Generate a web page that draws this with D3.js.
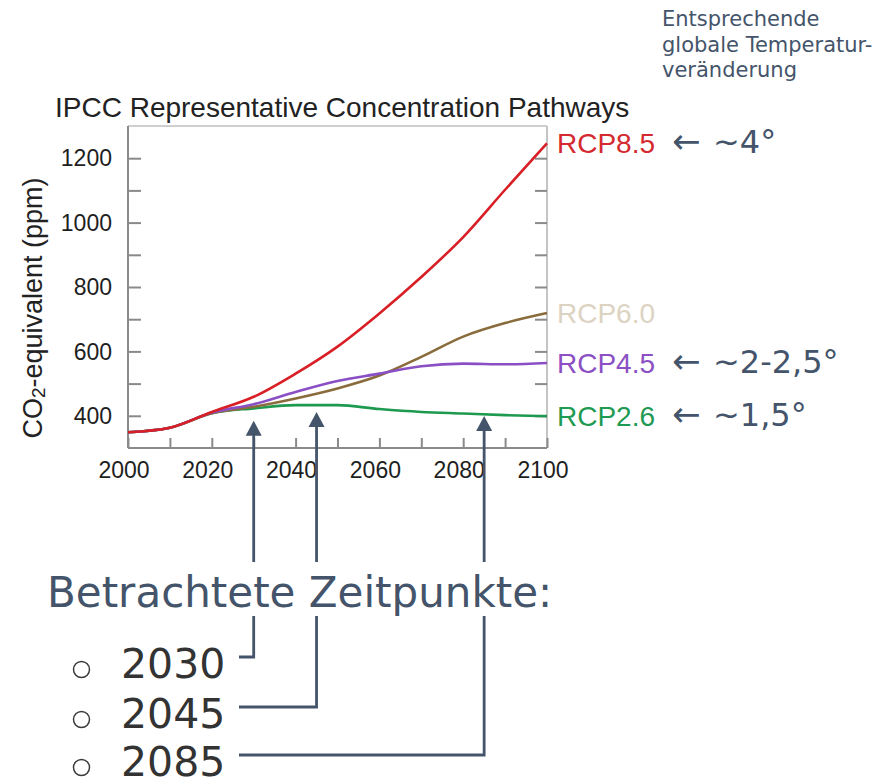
<!DOCTYPE html>
<html><head><meta charset="utf-8">
<script src="https://cdn.jsdelivr.net/npm/d3@7"></script>
<style>html,body{margin:0;padding:0;background:#fff;}svg{display:block;}</style>
</head><body>
<script>
// ---- data ----
const years = [2000, 2010, 2020, 2030, 2040, 2050, 2060, 2070, 2080, 2090, 2100];
const rcp85 = [349, 363, 412, 459, 531, 615, 718, 831, 955, 1102, 1246];
const rcp60 = [349, 363, 408, 428, 454, 485, 525, 583, 646, 688, 719];
const rcp45 = [349, 363, 410, 436, 474, 508, 531, 554, 562, 560, 564];
const rcp26 = [349, 363, 408, 423, 433, 433, 421, 412, 407, 402, 399];
const seriesNames = ["RCP8.5", "RCP6.0", "RCP4.5", "RCP2.6"];
const seriesValues = [rcp85, rcp60, rcp45, rcp26];
const lineColors = ["#d81f26", "#8a6c3c", "#8a4fc4", "#1e9a50"];
const labelColors = ["#d42a2f", "#dcd3c2", "#8c50c4", "#1f9a52"];
const tempLabels = ["~4\u00b0", null, "~2-2,5\u00b0", "~1,5\u00b0"];
const xTicks = [2000, 2020, 2040, 2060, 2080, 2100];
const yTicks = [400, 600, 800, 1000, 1200];
const focusYears = [2030, 2045, 2085];
const focusTipPpm = [385, 412, 399];
const headerLines = ["Entsprechende", "globale Temperatur-", "veränderung"];

const W = 886, H = 784;
const svg = d3.select("body").append("svg").attr("width", W).attr("height", H);

const x = d3.scaleLinear().domain([2000, 2100]).range([128, 547]);
const y = d3.scaleLinear().domain([300, 1300]).range([448, 126]);
const chartFont = "'Liberation Sans', Arial, sans-serif";
const annoFont = "'DejaVu Sans', Verdana, sans-serif";
const slate = "#44546a";

// frame
const g = svg.append("g");
g.append("line").attr("x1", x(2000)).attr("x2", x(2100)).attr("y1", y(1300)).attr("y2", y(1300))
  .attr("stroke", "#cfcfcf").attr("stroke-width", 2);
g.append("line").attr("x1", x(2100)).attr("x2", x(2100)).attr("y1", y(1300)).attr("y2", y(300))
  .attr("stroke", "#c4c4c4").attr("stroke-width", 2);

// axes with inward ticks
const yMinor = d3.range(400, 1201, 100);
const xMinor = d3.range(2000, 2101, 10);
const axisColor = "#8a8a8a";

const gl = g.append("g").attr("transform", `translate(${x(2000)},0)`)
  .call(d3.axisRight(y).tickValues(yMinor).tickSize(13).tickFormat(""));
const gr = g.append("g").attr("transform", `translate(${x(2100)},0)`)
  .call(d3.axisLeft(y).tickValues(yMinor).tickSize(12).tickFormat(""));
const gb = g.append("g").attr("transform", `translate(0,${y(300)})`)
  .call(d3.axisTop(x).tickValues(xMinor).tickSize(10).tickFormat(""));
[gl, gr, gb].forEach(a => {
  a.selectAll("line").attr("stroke", axisColor).attr("stroke-width", 2);
  a.select(".domain").remove();
});
g.append("line").attr("x1", x(2000)).attr("x2", x(2000)).attr("y1", y(1300)).attr("y2", y(300))
  .attr("stroke", axisColor).attr("stroke-width", 2);
g.append("line").attr("x1", x(2000)).attr("x2", x(2100)).attr("y1", y(300)).attr("y2", y(300))
  .attr("stroke", axisColor).attr("stroke-width", 2);

// tick labels
g.selectAll("text.ylab").data(yTicks).join("text").attr("class", "ylab")
  .attr("x", x(2000) - 16).attr("y", d => y(d)).attr("dy", "0.36em")
  .attr("text-anchor", "end").attr("font-family", chartFont).attr("font-size", 23)
  .attr("fill", "#1e1e1e").text(d => d);
g.selectAll("text.xlab").data(xTicks).join("text").attr("class", "xlab")
  .attr("x", d => x(d) - 4).attr("y", y(300) + 30)
  .attr("text-anchor", "middle").attr("font-family", chartFont).attr("font-size", 23)
  .attr("fill", "#1e1e1e").text(d => d);

// title
svg.append("text").attr("x", 55).attr("y", 117).attr("font-family", chartFont).attr("font-size", 28)
  .attr("fill", "#222").text("IPCC Representative Concentration Pathways");

// y axis label
const yl = svg.append("text").attr("transform", "translate(42,308) rotate(-90)")
  .attr("text-anchor", "middle").attr("font-family", chartFont).attr("font-size", 27).attr("fill", "#222");
yl.append("tspan").text("CO");
yl.append("tspan").attr("font-size", 19).attr("dy", 3).text("2");
yl.append("tspan").attr("dy", -3).text("-equivalent (ppm)");

// lines
const line = d3.line().x((d, i) => x(years[i])).y(d => y(d)).curve(d3.curveMonotoneX);
const order = [3, 1, 2, 0];
order.forEach(k => {
  g.append("path").datum(seriesValues[k]).attr("d", line)
    .attr("fill", "none").attr("stroke", lineColors[k]).attr("stroke-width", 2.6)
    .attr("stroke-linejoin", "round");
});

// series labels + temperature annotations
seriesNames.forEach((n, k) => {
  const vy = y(seriesValues[k][seriesValues[k].length - 1]);
  svg.append("text").attr("x", 557).attr("y", vy).attr("dy", "0.36em")
    .attr("font-family", chartFont).attr("font-size", 28).attr("fill", labelColors[k]).text(n);
  if (tempLabels[k]) {
    const t = svg.append("text").attr("x", 672).attr("y", vy).attr("dy", "0.3em")
      .attr("font-family", annoFont).attr("font-size", 32).attr("fill", slate);
    t.append("tspan").attr("font-size", 34).text("\u2190");
    t.append("tspan").attr("x", 713).text(tempLabels[k]);
  }
});

// header
svg.append("g").selectAll("text").data(headerLines).join("text")
  .attr("x", 662).attr("y", (d, i) => 26 + i * 25.5)
  .attr("font-family", annoFont).attr("font-size", 21).attr("fill", slate).text(d => d);

// Betrachtete Zeitpunkte
svg.append("text").attr("x", 47).attr("y", 607).attr("font-family", annoFont).attr("font-size", 42)
  .attr("fill", slate).text("Betrachtete Zeitpunkte:");

const rowY = [678, 728, 776];
focusYears.forEach((yr, i) => {
  svg.append("circle").attr("cx", 81.5).attr("cy", rowY[i] - 8.5).attr("r", 8)
    .attr("fill", "none").attr("stroke", "#3a3a3a").attr("stroke-width", 1.5);
  svg.append("text").attr("x", 121).attr("y", rowY[i]).attr("font-family", annoFont)
    .attr("font-size", 41).attr("fill", "#333").text(yr);
  const cx = x(yr);
  const hy = rowY[i] - 21;
  const tip = y(focusTipPpm[i]);
  // lower connector
  svg.append("path").attr("d", `M239,${hy} H${cx} V616`)
    .attr("fill", "none").attr("stroke", slate).attr("stroke-width", 2.8);
  // upper line + arrowhead
  svg.append("line").attr("x1", cx).attr("x2", cx).attr("y1", 562).attr("y2", tip + 14)
    .attr("stroke", slate).attr("stroke-width", 2.8);
  svg.append("path").attr("d", `M${cx},${tip} L${cx - 8},${tip + 15} L${cx + 8},${tip + 15} Z`)
    .attr("fill", slate);
});
</script>
</body></html>
